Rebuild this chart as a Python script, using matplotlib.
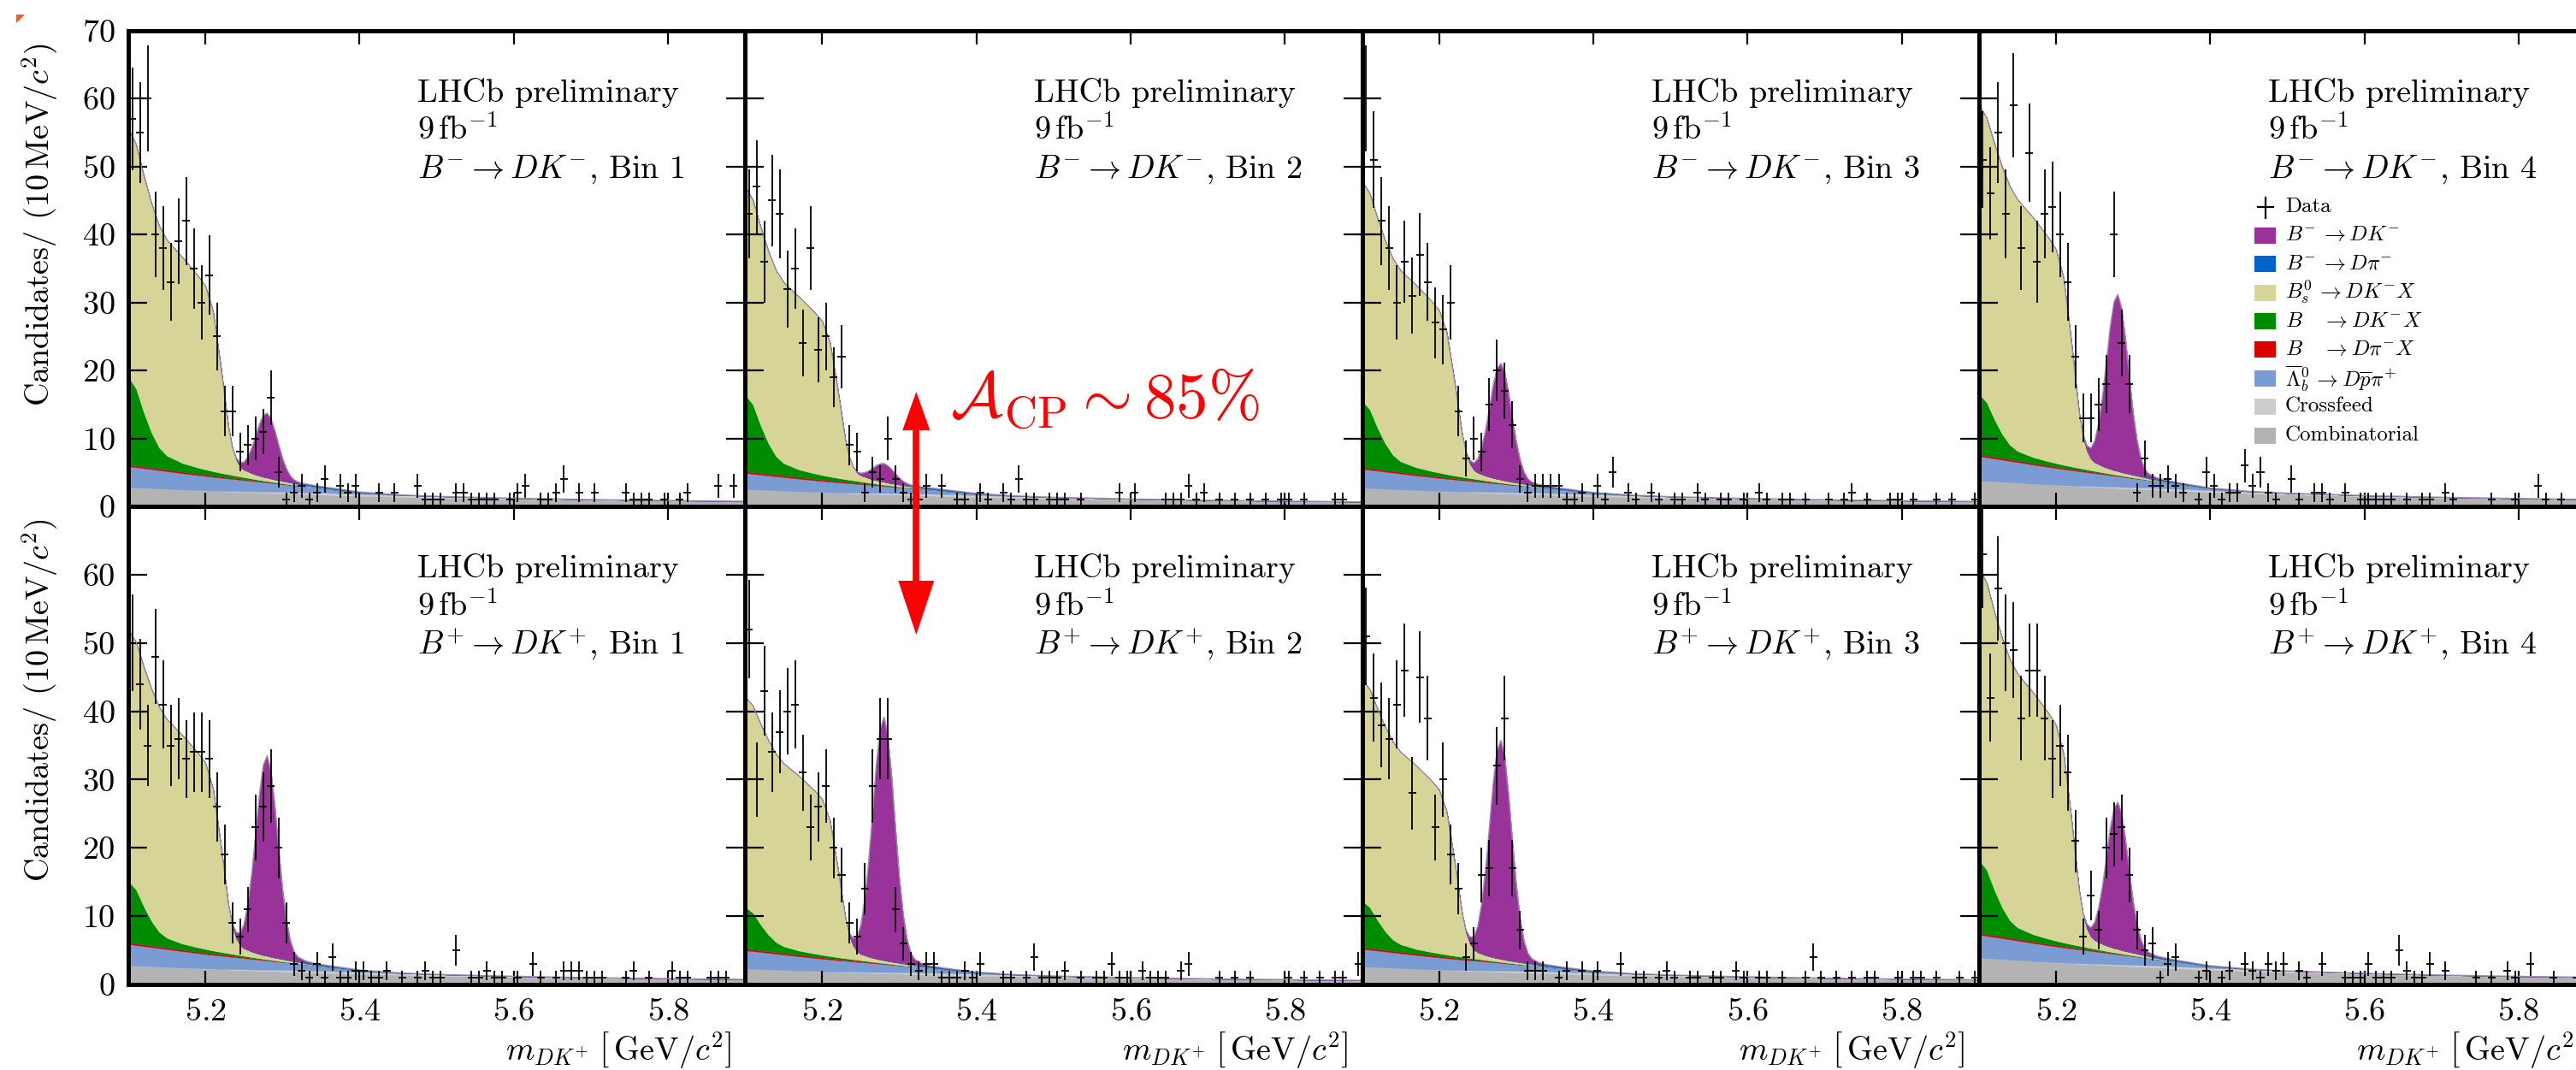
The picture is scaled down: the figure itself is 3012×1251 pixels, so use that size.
import numpy as np
import matplotlib
matplotlib.use('Agg')
import matplotlib.pyplot as plt
from matplotlib.patches import Polygon, Rectangle
from matplotlib.lines import Line2D

plt.rcParams.update({
    'font.family': 'serif',
    'font.serif': ['cmr10'],
    'mathtext.fontset': 'cm',
    'axes.formatter.use_mathtext': True,
    'axes.unicode_minus': False,
})

# ---------------- data (counts per 10 MeV bin, 5.10 - 5.90) ----------------
BIN_LO = 5.10
BIN_W = 0.01
N_BINS = 80

DATA_BM_BIN1 = [57,55,60,40,38,33,39,42,35,30, 34,25,14,14,8,9,10,11,16,5,
                1,2,3,1,2,4,0,3,2,3, 0,0,2,0,2,0,0,3,1,1,
                1,0,2,2,1,1,1,1,0,1, 2,3,0,1,1,2,4,0,2,0,
                2,0,0,0,2,1,1,1,0,1, 0,1,2,0,0,0,3,0,3,0]
DATA_BM_BIN2 = [43,47,36,45,43,32,35,24,38,23, 25,19,22,9,8,2,5,4,10,4,
                2,1,1,3,0,3,0,1,1,0, 2,1,0,2,1,4,1,1,0,1,
                1,1,0,1,0,0,0,0,2,0, 2,0,0,0,1,1,1,3,1,2,
                0,1,0,1,0,1,0,1,0,1, 1,0,1,0,0,0,1,1,0,0]
DATA_BM_BIN3 = [60,51,42,38,30,36,31,37,33,27, 26,30,14,7,10,8,15,20,17,12,
                4,2,3,3,3,3,1,1,2,0, 3,1,5,0,2,1,0,2,1,0,
                1,1,0,2,1,0,1,1,0,1, 0,2,1,0,1,1,0,1,0,0,
                1,0,1,2,0,1,0,0,1,1, 0,1,0,0,1,0,1,0,0,1]
DATA_BM_BIN4 = [51,46,55,43,59,38,52,36,43,44, 40,33,22,13,13,15,18,40,24,18,
                2,7,3,3,4,3,2,0,1,5, 3,1,2,2,6,3,5,2,1,0,
                4,1,0,2,2,1,0,2,0,1, 1,1,1,1,0,1,0,1,1,0,
                2,1,0,0,0,0,1,0,0,1, 0,0,3,1,0,1,0,0,0,0]
DATA_BP_BIN1 = [50,44,35,48,41,35,36,33,34,34, 33,26,19,9,7,11,23,26,29,20,
                9,3,2,1,3,1,4,1,1,2, 2,1,1,2,0,1,0,1,2,1,
                1,0,5,0,1,1,2,1,1,0, 1,0,3,1,0,1,2,2,2,1,
                1,1,0,0,1,2,0,1,0,0, 2,1,1,0,0,1,1,1,0,0]
DATA_BP_BIN2 = [52,30,43,34,37,40,41,31,23,26, 29,20,16,9,7,14,29,36,36,11,
                6,3,2,3,3,1,1,1,2,1, 3,0,0,1,1,0,1,4,1,1,
                1,2,0,1,0,1,1,3,1,1, 0,2,1,1,1,0,2,3,0,0,
                0,1,0,1,0,1,0,0,0,0, 1,0,1,0,1,0,1,1,0,3]
DATA_BP_BIN3 = [51,42,38,36,41,46,28,45,39,23, 30,19,14,4,6,16,17,32,39,17,
                8,2,2,2,0,1,2,0,2,0, 2,0,0,3,0,1,1,0,1,2,
                1,0,1,1,0,1,1,0,2,1, 0,1,1,0,1,0,0,1,4,1,
                0,1,0,1,0,1,1,0,0,1, 0,1,1,0,1,0,0,1,0,1]
DATA_BP_BIN4 = [63,42,58,50,49,39,46,46,39,33, 35,31,21,7,13,8,20,22,23,16,
                8,5,6,1,3,4,0,0,1,2, 0,1,2,0,3,2,1,3,2,3,
                0,2,1,0,3,0,0,1,1,1, 3,1,1,1,5,2,1,1,3,0,
                2,0,0,0,1,0,1,0,2,1, 0,3,0,0,1,0,0,1,0,0]

PANEL_DATA = [DATA_BM_BIN1, DATA_BM_BIN2, DATA_BM_BIN3, DATA_BM_BIN4,
              DATA_BP_BIN1, DATA_BP_BIN2, DATA_BP_BIN3, DATA_BP_BIN4]

# ---------------- fit components: profiles read on a mass grid ----------------
GRID = [5.100,5.110,5.120,5.130,5.140,5.150,5.170,5.190,5.200,5.210,5.220,
        5.225,5.230,5.235,5.240,5.245,5.250,5.255,5.260,5.265,5.270,5.275,5.280,
        5.285,5.290,5.295,5.300,5.305,5.310,5.315,5.320,
        5.330,5.340,5.360,5.400,5.450,5.500,5.600,5.700,5.800,5.900]

COMB_PROFILE = [1.0,0.982,0.964,0.946,0.928,0.91,0.874,0.838,0.82,0.806,0.792,
                0.785,0.778,0.771,0.764,0.757,0.75,0.743,0.736,0.729,0.722,0.715,0.708,
                0.701,0.694,0.687,0.68,0.674,0.667,0.661,0.654,
                0.641,0.628,0.602,0.55,0.505,0.46,0.39,0.34,0.30,0.27]
CROSSFEED = [0,0,0,0,0,0,0,0.02,0.03,0.04,0.05,
             0.06,0.07,0.08,0.09,0.10,0.11,0.12,0.13,0.14,0.15,0.16,0.17,
             0.18,0.19,0.20,0.21,0.22,0.23,0.24,0.25,
             0.26,0.27,0.28,0.27,0.24,0.2,0.12,0.06,0.03,0.0]
LAMB_PROFILE = [1.0,0.969,0.938,0.906,0.875,0.844,0.781,0.719,0.688,0.656,0.625,
                0.609,0.594,0.578,0.563,0.547,0.531,0.516,0.5,0.484,0.469,0.453,0.438,
                0.422,0.406,0.391,0.375,0.359,0.344,0.328,0.313,
                0.281,0.25,0.188,0.07,0.01,0,0,0,0,0]
DPIX = [0.25,0.24,0.24,0.23,0.23,0.22,0.21,0.2,0.19,0.18,0.17,
        0.165,0.16,0.155,0.15,0.145,0.14,0.13,0.12,0.11,0.10,0.09,0.08,
        0.07,0.06,0.05,0.04,0.03,0.02,0.01,0.0,
        0,0,0,0,0,0,0,0,0,0]
GREEN_PROFILE = [1.0,0.88,0.62,0.40,0.24,0.16,0.10,0.07,0.06,0.05,0.042,
                 0.038,0.035,0.031,0.028,0.025,0.022,0.02,0.017,0.015,0.013,0.011,0.01,
                 0.009,0.007,0.006,0.005,0.004,0.003,0.0025,0.002,
                 0.001,0,0,0,0,0,0,0,0,0]
BS_PROFILE = [1.0,0.985,0.955,0.925,0.895,0.87,0.83,0.775,0.74,0.645,0.43,
              0.31,0.19,0.11,0.065,0.04,0.03,0.026,0.022,0.019,0.017,0.015,0.014,
              0.012,0.011,0.010,0.009,0.008,0.007,0.006,0.005,
              0.0035,0.0025,0.001,0,0,0,0,0,0,0]
DPI_MISID = [0,0,0,0,0,0,0,0,0,0,0,
             0,0,0,0,0,0,0,0,0,0,0,0,
             0,0.02,0.03,0.05,0.07,0.09,0.12,0.14,
             0.18,0.2,0.18,0.1,0.03,0,0,0,0,0]
SIGNAL_PROFILE = [0,0,0,0,0,0,0,0,0,0,0,
                  0.003,0.006,0.012,0.03,0.06,0.12,0.23,0.39,0.59,0.80,0.95,1.0,
                  0.93,0.76,0.55,0.35,0.20,0.10,0.045,0.022,
                  0.007,0.002,0,0,0,0,0,0,0,0]

# per-panel heights (T1..T4 = B-, B1..B4 = B+)
COMB_H  = [2.8, 2.5, 2.7, 3.8, 2.8, 2.3, 2.6, 3.9]
LAMB_H  = [3.1, 2.4, 2.8, 3.6, 3.1, 2.7, 2.6, 3.4]
GREEN_H = [12.9, 11.3, 9.8, 8.9, 9.0, 6.1, 6.8, 10.7]
BS_H    = [36.5, 30.6, 32.3, 42.5, 36.8, 30.8, 32.4, 42.7]
SIG_H   = [9.5, 2.7, 17.1, 26.0, 29.3, 35.6, 32.0, 21.5]

PANEL_LABELS = [r"$B^{-}\rightarrow DK^{-}$, Bin 1", r"$B^{-}\rightarrow DK^{-}$, Bin 2",
                r"$B^{-}\rightarrow DK^{-}$, Bin 3", r"$B^{-}\rightarrow DK^{-}$, Bin 4",
                r"$B^{+}\rightarrow DK^{+}$, Bin 1", r"$B^{+}\rightarrow DK^{+}$, Bin 2",
                r"$B^{+}\rightarrow DK^{+}$, Bin 3", r"$B^{+}\rightarrow DK^{+}$, Bin 4"]
XTICKS = [5.2, 5.4, 5.6, 5.8]
YTICKS = [0, 10, 20, 30, 40, 50, 60, 70]

LEGEND_LABELS = [r"$B^{-}\,\rightarrow DK^{-}$", r"$B^{-}\,\rightarrow D\pi^{-}$",
                 r"$B_{s}^{0}\,\rightarrow DK^{-}X$", r"$B\;\;\;\;\rightarrow DK^{-}X$",
                 r"$B\;\;\;\;\rightarrow D\pi^{-}X$", r"$\overline{\Lambda}_{b}^{0}\,\rightarrow D\overline{p}\pi^{+}$",
                 "Crossfeed", "Combinatorial"]

C_COMB = '#b3b3b3'
C_CROSS = '#cdcdcd'
C_LAMB = '#7b9bd3'
C_DPIX = '#dd0000'
C_GREEN = '#008c00'
C_BS = '#d6d496'
C_DPI = '#0064cc'
C_SIG = '#993399'
LEGEND_COLORS = [C_SIG, C_DPI, C_BS, C_GREEN, C_DPIX, C_LAMB, C_CROSS, C_COMB]

# ---------------- figure ----------------
W, H = 3012, 1251
DPI = 100
fig = plt.figure(figsize=(W / DPI, H / DPI), dpi=DPI)

X0, PW = 150.0, 721.3
ROW_TOP = [35.5, 592.0]
ROW_BOT = [592.0, 1151.0]
FS = 27.5

def fx(x):
    return x / W

def fy(y):
    return 1 - y / H

g = np.array(GRID)
centers = BIN_LO + BIN_W * (np.arange(N_BINS) + 0.5)
axes = []
for r in range(2):
    for c in range(4):
        k = r * 4 + c
        ax = fig.add_axes([fx(X0 + c * PW), fy(ROW_BOT[r]), PW / W,
                           (ROW_BOT[r] - ROW_TOP[r]) / H])
        axes.append(ax)
        comps = [COMB_H[k] * np.array(COMB_PROFILE), np.array(CROSSFEED),
                 LAMB_H[k] * np.array(LAMB_PROFILE), np.array(DPIX),
                 GREEN_H[k] * np.array(GREEN_PROFILE), BS_H[k] * np.array(BS_PROFILE),
                 np.array(DPI_MISID), SIG_H[k] * np.array(SIGNAL_PROFILE)]
        cols = [C_COMB, C_CROSS, C_LAMB, C_DPIX, C_GREEN, C_BS, C_DPI, C_SIG]
        low = np.zeros_like(g)
        for comp, col in zip(comps, cols):
            up = low + comp
            ax.fill_between(g, low, up, facecolor=col, edgecolor=col, linewidth=0.3, zorder=1)
            low = up
        ax.plot(g, low, color='#9a8fb0', lw=0.9, zorder=2)

        n = np.array(PANEL_DATA[k], dtype=float)
        m = n > 0
        ax.errorbar(centers[m], n[m], xerr=BIN_W / 2, yerr=np.sqrt(n[m]), fmt='none',
                    ecolor='black', elinewidth=1.3, capsize=0, zorder=3)

        ax.set_xlim(5.1, 5.9)
        ax.set_ylim(0, 70)
        ax.set_xticks(XTICKS)
        ax.set_yticks(YTICKS)
        ax.tick_params(direction='in', top=True, right=True, labelsize=FS, width=1.6)
        ax.tick_params(axis='x', length=11.5, pad=11)
        ax.tick_params(axis='y', length=15.8, pad=11)
        if r == 0:
            ax.tick_params(labelbottom=False)
        if c != 0:
            ax.tick_params(labelleft=False)
        elif r == 1:
            ax.set_yticklabels([str(v) for v in YTICKS[:-1]] + [''])
        for s in ax.spines.values():
            s.set_linewidth(3.6)

        hgt = ROW_BOT[r] - ROW_TOP[r]
        tx = 338.0 / PW
        for line, dy in zip(["LHCb preliminary", r"$9\,\mathrm{fb}^{-1}$", PANEL_LABELS[k]],
                            [83.5, 127.5, 172.5]):
            ax.text(tx, 1 - dy / hgt, line, transform=ax.transAxes, ha='left',
                    va='baseline', fontsize=FS)

# ---------------- legend (in top-right panel) ----------------
axL = axes[3]
hL = ROW_BOT[0] - ROW_TOP[0]
def afx(x):
    return (x - (X0 + 3 * PW)) / PW
def afy(y):
    return 1 - (y - ROW_TOP[0]) / hL
axL.add_line(Line2D([afx(2648.8), afx(2648.8)], [afy(230.5), afy(255)],
                    transform=axL.transAxes, color='black', lw=1.6, zorder=5))
axL.add_line(Line2D([afx(2639.7), afx(2657.9)], [afy(242), afy(242)],
                    transform=axL.transAxes, color='black', lw=1.6, zorder=5))
axL.text(afx(2672), afy(242), "Data", transform=axL.transAxes, ha='left', va='center',
         fontsize=18, zorder=5)
for i, (lab, col) in enumerate(zip(LEGEND_LABELS, LEGEND_COLORS)):
    yc = 275.2 + 33.44 * i
    axL.add_patch(Rectangle((afx(2636), afy(yc + 9.5)), 25 / PW, 19 / hL,
                            transform=axL.transAxes, facecolor=col, edgecolor='none', zorder=5))
    axL.text(afx(2672), afy(yc), lab, transform=axL.transAxes, ha='left', va='center',
             fontsize=18, zorder=5)

# ---------------- axis titles ----------------
ylab = r"Candidates/ $(10\,\mathrm{MeV}/c^{2})$"
fig.text(fx(47), fy(50), ylab, rotation=90, ha='center', va='top', fontsize=FS)
fig.text(fx(47), fy(606), ylab, rotation=90, ha='center', va='top', fontsize=FS)
xlab = r"$m_{DK^{+}}\;\left[\,\mathrm{GeV}/c^{2}\right]$"
for c in range(4):
    fig.text(fx(X0 + (c + 1) * PW - 16), fy(1239), xlab, ha='right', va='baseline', fontsize=FS)

# ---------------- A_CP annotation ----------------
ax_x = 1071.3
fig.add_artist(Line2D([fx(ax_x), fx(ax_x)], [fy(500), fy(682)], color='red', lw=5.5))
fig.add_artist(Polygon([[fx(ax_x), fy(458)], [fx(ax_x - 16), fy(503)], [fx(ax_x + 16), fy(503)]],
                       closed=True, facecolor='red', edgecolor='none', transform=fig.transFigure))
fig.add_artist(Polygon([[fx(ax_x), fy(742)], [fx(ax_x - 21), fy(679)], [fx(ax_x + 21), fy(679)]],
                       closed=True, facecolor='red', edgecolor='none', transform=fig.transFigure))
fig.text(fx(1111), fy(489), r"$\mathcal{A}_{\rm CP} \sim 85\%$", color='red',
         ha='left', va='baseline', fontsize=54)

# small orange corner mark
fig.add_artist(Polygon([[fx(19), fy(17)], [fx(29), fy(17)], [fx(19), fy(27)]], closed=True,
                       facecolor='#ff5a1f', edgecolor='none', transform=fig.transFigure))

fig.savefig('out.png', dpi=DPI)
